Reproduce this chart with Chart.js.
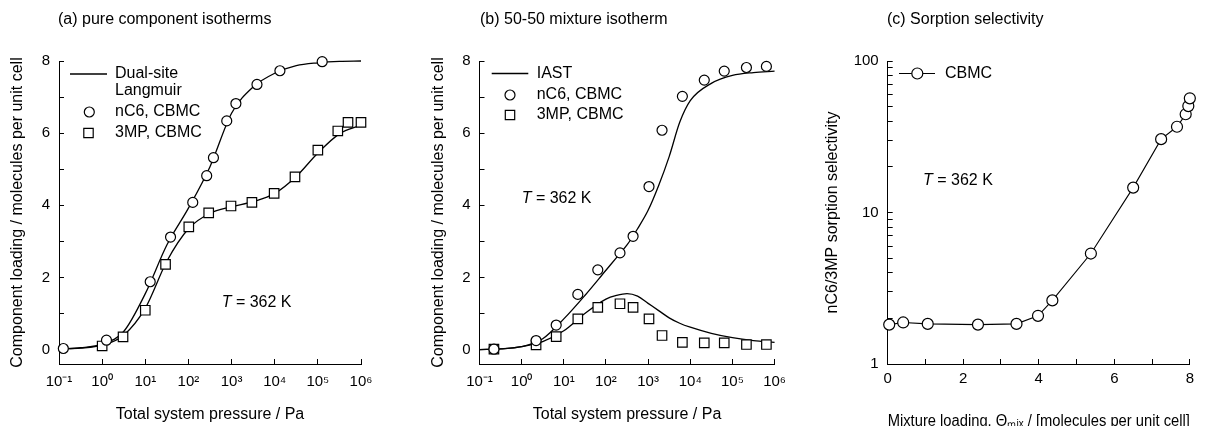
<!DOCTYPE html>
<html>
<head>
<meta charset="utf-8">
<script src="https://cdn.jsdelivr.net/npm/chart.js@4.4.1/dist/chart.umd.min.js"></script>
<style>
  html, body { margin: 0; padding: 0; background: #fff; }
  #wrap { position: relative; width: 1205px; height: 426px; overflow: hidden; background: #fff; }
  canvas { position: absolute; top: 0; }
</style>
</head>
<body>
<div id="wrap">
  <canvas id="ca" width="400" height="426" style="left:0px"></canvas>
  <canvas id="cb" width="400" height="426" style="left:400px"></canvas>
  <canvas id="cc" width="405" height="426" style="left:800px"></canvas>
</div>
<script>
// ---------- DATA ----------
// Panel (a): pure component isotherms
const aNc6P    = [0.126, 1.26, 13, 38.5, 126, 265, 380, 773, 1260, 3880, 13200, 126000];
const aNc6Load = [0.03, 0.26, 1.88, 3.12, 4.08, 4.82, 5.32, 6.34, 6.82, 7.35, 7.73, 7.98];
const a3mpP    = [1, 3.05, 10, 29.5, 102, 295, 970, 2960, 9700, 29500, 100000, 290000, 500000, 1000000];
const a3mpLoad = [0.10, 0.35, 1.09, 2.36, 3.40, 3.79, 3.98, 4.08, 4.33, 4.79, 5.53, 6.06, 6.30, 6.30];
const aFitP    = [0.1, 0.316, 1, 3.16, 10, 31.6, 100, 316, 1000, 3160, 10000, 31600, 100000, 316000, 1000000];
const aNc6Fit  = [0.02, 0.05, 0.15, 0.50, 1.55, 2.90, 3.92, 5.07, 6.55, 7.28, 7.66, 7.87, 7.95, 7.99, 8.00];
const a3mpFit  = [0.02, 0.04, 0.12, 0.40, 1.15, 2.45, 3.35, 3.78, 3.96, 4.10, 4.33, 4.80, 5.45, 5.98, 6.22];

// Panel (b): 50-50 mixture isotherm
const bP       = [0.22, 2.2, 6.6, 21.5, 64, 215, 440, 1050, 2140, 6500, 21500, 64000, 215000, 640000];
const bNc6Load = [0.01, 0.25, 0.68, 1.53, 2.21, 2.68, 3.14, 4.52, 6.08, 7.02, 7.47, 7.72, 7.82, 7.85];
const b3mpLoad = [0.01, 0.13, 0.36, 0.85, 1.17, 1.27, 1.17, 0.85, 0.39, 0.20, 0.185, 0.185, 0.14, 0.14];
const bIastP   = [0.1, 0.316, 1, 3.16, 10, 31.6, 100, 178, 316, 562, 1000, 1780, 3160, 5620, 10000, 31600, 100000, 316000, 1000000];
const bNc6Iast = [0.00, 0.02, 0.08, 0.30, 0.85, 1.50, 2.20, 2.55, 2.90, 3.35, 3.86, 4.55, 5.35, 6.30, 6.90, 7.38, 7.60, 7.68, 7.72];
const b3mpIast = [0.00, 0.02, 0.08, 0.22, 0.52, 1.00, 1.40, 1.50, 1.55, 1.48, 1.28, 1.08, 0.88, 0.73, 0.62, 0.45, 0.33, 0.25, 0.20];

// Panel (c): sorption selectivity
const cLoad = [0.04, 0.41, 1.06, 2.39, 3.41, 3.98, 4.36, 5.38, 6.50, 7.24, 7.66, 7.89, 7.96, 8.00];
const cSel  = [1.82, 1.88, 1.84, 1.82, 1.84, 2.08, 2.63, 5.36, 14.6, 30.5, 36.8, 44.5, 50.4, 56.7];

// Tick values / labels
const pTicks      = [0.1, 1, 10, 100, 1000, 10000, 100000, 1000000];
const pTickLabels = ['10\u207B\u00B9', '10\u2070', '10\u00B9', '10\u00B2', '10\u00B3', '10\u2074', '10\u2075', '10\u2076'];
const loadTicks      = [0, 1, 2, 3, 4, 5, 6, 7, 8];
const loadTickLabels = ['0', '', '2', '', '4', '', '6', '', '8'];
const selTicks      = [1, 2, 3, 4, 5, 6, 7, 8, 9, 10, 20, 30, 40, 50, 60, 70, 80, 90, 100];
const selTickLabels = ['1', '', '', '', '', '', '', '', '', '10', '', '', '', '', '', '', '', '', '100'];
const mixTicks      = [0, 1, 2, 3, 4, 5, 6, 7, 8];
const mixTickLabels = ['0', '', '2', '', '4', '', '6', '', '8'];

// ---------- HELPERS ----------
const FONT = "'Liberation Sans', Arial, Helvetica, sans-serif";
const pts = (xs, ys) => xs.map((x, i) => ({ x: x, y: ys[i] }));

function drawMarker(ctx, style, x, y, r) {
  ctx.save();
  ctx.fillStyle = '#fff'; ctx.strokeStyle = '#000'; ctx.lineWidth = 1.2;
  ctx.beginPath();
  if (style === 'circle') ctx.arc(x, y, r || 5, 0, Math.PI * 2);
  else ctx.rect(x - 4.7, y - 4.7, 9.4, 9.4);
  ctx.fill(); ctx.stroke();
  ctx.restore();
}

const decor = {
  id: 'decor',
  afterDraw(chart, args, o) {
    const ctx = chart.ctx;
    ctx.save();
    ctx.fillStyle = '#000';
    ctx.textBaseline = 'middle';
    ctx.textAlign = 'left';
    ctx.font = '16px ' + FONT;
    ctx.fillText(o.title, o.titleX, 20);
    (o.legend || []).forEach(it => {
      if (it.line) {
        ctx.beginPath(); ctx.strokeStyle = '#000'; ctx.lineWidth = it.lw || 1.3;
        ctx.moveTo(it.line[0], it.y); ctx.lineTo(it.line[1], it.y); ctx.stroke();
      }
      if (it.marker) drawMarker(ctx, it.marker, it.mx, it.y, it.mr);
      ctx.fillStyle = '#000';
      ctx.font = '16px ' + FONT;
      ctx.fillText(it.text, it.tx, it.y);
    });
    if (o.note) {
      ctx.font = 'italic 16px ' + FONT;
      ctx.fillText('T', o.note.x, o.note.y);
      const w = ctx.measureText('T').width;
      ctx.font = '16px ' + FONT;
      ctx.fillText(' = 362 K', o.note.x + w, o.note.y);
    }
    ctx.restore();
  }
};

function axisCommon() {
  return {
    grid: { drawOnChartArea: false, drawTicks: true, tickLength: -5, color: '#000', lineWidth: 1 },
    border: { display: true, color: '#000', width: 1 },
  };
}

function markerSet(label, data, style, r) {
  return {
    label, data, showLine: false, pointStyle: style, pointRadius: r, pointHoverRadius: r,
    pointBackgroundColor: '#fff', pointBorderColor: '#000', pointBorderWidth: 1.2,
    order: 0, clip: false
  };
}
function lineSet(label, data) {
  return {
    label, data, showLine: true, pointRadius: 0, pointHoverRadius: 0,
    borderColor: '#000', borderWidth: 1.3, cubicInterpolationMode: 'monotone',
    fill: false, order: 1, clip: false
  };
}

function isoOptions(yW, padRight, yTitlePad, decorOpts) {
  return {
    responsive: false, animation: false, events: [],
    layout: { padding: { left: 0, top: 61, right: padRight, bottom: 0 } },
    plugins: { legend: { display: false }, tooltip: { enabled: false }, decor: decorOpts },
    scales: {
      x: Object.assign(axisCommon(), {
        type: 'logarithmic', min: 0.1, max: 1000000, bounds: 'data',
        afterBuildTicks: s => { s.ticks = pTicks.map(v => ({ value: v })); },
        afterFit: s => { s.height = 62; },
        ticks: { autoSkip: false, maxRotation: 0, padding: 14, color: '#000',
                 font: { family: FONT, size: 15 },
                 callback: (v, i) => pTickLabels[i] },
        title: { display: true, text: 'Total system pressure / Pa', color: '#000',
                 font: { family: FONT, size: 16 }, padding: { top: 0, bottom: 1.4 } }
      }),
      y: Object.assign(axisCommon(), {
        type: 'linear', min: -0.4, max: 8, bounds: 'data',
        afterBuildTicks: s => { s.ticks = loadTicks.map(v => ({ value: v })); },
        afterFit: s => { s.width = yW; },
        ticks: { autoSkip: false, padding: 14, color: '#000',
                 font: { family: FONT, size: 15 },
                 callback: (v, i) => loadTickLabels[i] },
        title: { display: true, text: 'Component loading / molecules per unit cell', color: '#000',
                 font: { family: FONT, size: 16 }, padding: { top: yTitlePad, bottom: 0 } }
      })
    }
  };
}

// ---------- PANEL (a) ----------
new Chart(document.getElementById('ca'), {
  type: 'scatter',
  data: { datasets: [
    markerSet('nC6, CBMC', pts(aNc6P, aNc6Load), 'circle', 5),
    markerSet('3MP, CBMC', pts(a3mpP, a3mpLoad), 'rect', 6.7),
    lineSet('Dual-site Langmuir nC6', pts(aFitP, aNc6Fit)),
    lineSet('Dual-site Langmuir 3MP', pts(aFitP, a3mpFit))
  ]},
  options: isoOptions(59, 39, 8, {
    title: '(a) pure component isotherms', titleX: 58,
    legend: [
      { line: [70, 107], y: 74, text: 'Dual-site', tx: 115 },
      { y: 91, text: 'Langmuir', tx: 115 },
      { marker: 'circle', mx: 89.3, y: 112, text: 'nC6, CBMC', tx: 115 },
      { marker: 'rect', mx: 88.5, y: 133, text: '3MP, CBMC', tx: 115 }
    ],
    note: { x: 221.7, y: 303 }
  }),
  plugins: [decor]
});

// ---------- PANEL (b) ----------
new Chart(document.getElementById('cb'), {
  type: 'scatter',
  data: { datasets: [
    markerSet('nC6, CBMC', pts(bP, bNc6Load), 'circle', 5),
    markerSet('3MP, CBMC', pts(bP, b3mpLoad), 'rect', 6.7),
    lineSet('IAST nC6', pts(bIastP, bNc6Iast)),
    lineSet('IAST 3MP', pts(bIastP, b3mpIast))
  ]},
  options: isoOptions(79.5, 17.3, 29.4, {
    title: '(b) 50-50 mixture isotherm', titleX: 80,
    legend: [
      { line: [91.7, 128.3], y: 73.5, text: 'IAST', tx: 136.7 },
      { marker: 'circle', mx: 110, y: 95, text: 'nC6, CBMC', tx: 136.7 },
      { marker: 'rect', mx: 110, y: 115, text: '3MP, CBMC', tx: 136.7 }
    ],
    note: { x: 121.7, y: 199 }
  }),
  plugins: [decor]
});

// ---------- PANEL (c) ----------
new Chart(document.getElementById('cc'), {
  type: 'scatter',
  data: { datasets: [
    {
      label: 'CBMC', data: pts(cLoad, cSel), showLine: true, tension: 0,
      borderColor: '#000', borderWidth: 1.1,
      pointStyle: 'circle', pointRadius: 5.5, pointHoverRadius: 5.5,
      pointBackgroundColor: '#fff', pointBorderColor: '#000', pointBorderWidth: 1.2, clip: false
    }
  ]},
  options: {
    responsive: false, animation: false, events: [],
    layout: { padding: { left: 0, top: 61, right: 14.3, bottom: 0 } },
    plugins: { legend: { display: false }, tooltip: { enabled: false },
      decor: {
        title: '(c) Sorption selectivity', titleX: 87,
        legend: [ { line: [99, 135], lw: 1.1, marker: 'circle', mr: 5.5, mx: 117.3, y: 73.5, text: 'CBMC', tx: 145 } ],
        note: { x: 123, y: 181 }
      } },
    scales: {
      x: Object.assign(axisCommon(), {
        type: 'linear', min: 0, max: 8, bounds: 'data',
        afterBuildTicks: s => { s.ticks = mixTicks.map(v => ({ value: v })); },
        afterFit: s => { s.height = 62; },
        ticks: { autoSkip: false, maxRotation: 0, padding: 11, color: '#000',
                 font: { family: FONT, size: 15 },
                 callback: (v, i) => mixTickLabels[i] },
        title: { display: true, text: 'Mixture loading, \u0398\u2098\u1D62\u2093 / [molecules per unit cell]', color: '#000',
                 font: { family: FONT, size: 16 }, padding: { top: 0, bottom: -5 } }
      }),
      y: Object.assign(axisCommon(), {
        type: 'logarithmic', min: 1, max: 100, bounds: 'data',
        afterBuildTicks: s => { s.ticks = selTicks.map(v => ({ value: v })); },
        afterFit: s => { s.width = 87.7; },
        ticks: { autoSkip: false, padding: 14, color: '#000',
                 font: { family: FONT, size: 15 },
                 callback: (v, i) => selTickLabels[i] },
        title: { display: true, text: 'nC6/3MP sorption selectivity', color: '#000',
                 font: { family: FONT, size: 16 }, padding: { top: 23.1, bottom: 0 } }
      })
    }
  },
  plugins: [decor]
});
</script>
</body>
</html>
